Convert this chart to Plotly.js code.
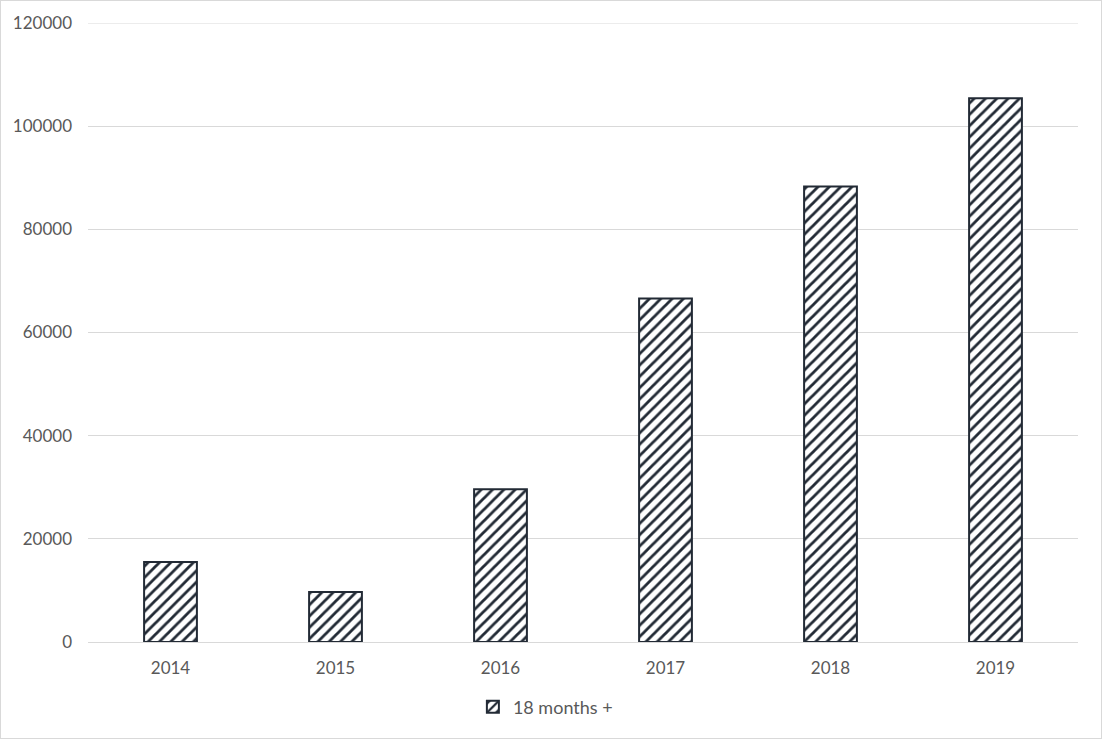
<!DOCTYPE html>
<html>
<head>
<meta charset="utf-8">
<script src="https://cdn.plot.ly/plotly-3.0.1.min.js"></script>
<style>
html,body{margin:0;padding:0;background:#fff;}
#chart{width:1100px;height:737px;border:1px solid #d9d9d9;}
</style>
</head>
<body>
<div id="chart"></div>
<script>
const years = ['2014','2015','2016','2017','2018','2019'];
const values = [15500, 9700, 29600, 66600, 88300, 105400];
const seriesName = '18 months +';
const yTicks = [0, 20000, 40000, 60000, 80000, 100000, 120000];
const yMax = 120000;

const trace = {
  type: 'bar',
  x: years,
  y: values,
  name: seriesName,
  showlegend: true,
  marker: {
    color: '#ffffff',
    line: {color: '#222a35', width: 2},
    pattern: {shape: '/', fgcolor: '#222a35', bgcolor: '#ffffff', size: 8, solidity: 0.35}
  },
  hoverinfo: 'x+y'
};

const fontFam = 'Lato, "Open Sans", sans-serif';
const layout = {
  width: 1100, height: 737,
  margin: {l: 87, r: 23, t: 22, b: 96},
  paper_bgcolor: '#ffffff',
  plot_bgcolor: '#ffffff',
  bargap: 0.68,
  font: {family: fontFam, size: 17, color: '#595959'},
  xaxis: {
    type: 'category',
    showgrid: false,
    showline: true, linecolor: '#d9d9d9', linewidth: 1,
    ticks: '', ticklabelstandoff: 11,
    tickfont: {family: fontFam, size: 17, color: '#595959'}
  },
  yaxis: {
    range: [0, yMax],
    tickvals: yTicks,
    ticktext: yTicks.map(String),
    showgrid: true, gridcolor: '#d9d9d9', gridwidth: 1,
    zeroline: false, showline: false, ticks: '',
    ticklabelstandoff: 15,
    tickfont: {family: fontFam, size: 17, color: '#595959'}
  },
  shapes: [{
    type: 'line', xref: 'paper', x0: 0, x1: 1, yref: 'y', y0: yMax, y1: yMax,
    line: {color: '#d9d9d9', width: 1}, layer: 'below'
  }],
  legend: {
    orientation: 'h', x: 0.462, xanchor: 'center',
    yref: 'container', y: 0.042, yanchor: 'middle',
    font: {family: fontFam, size: 18, color: '#595959'},
    itemwidth: 30
  }
};

Plotly.newPlot('chart', [trace], layout, {displayModeBar: false, staticPlot: true});
</script>
</body>
</html>
